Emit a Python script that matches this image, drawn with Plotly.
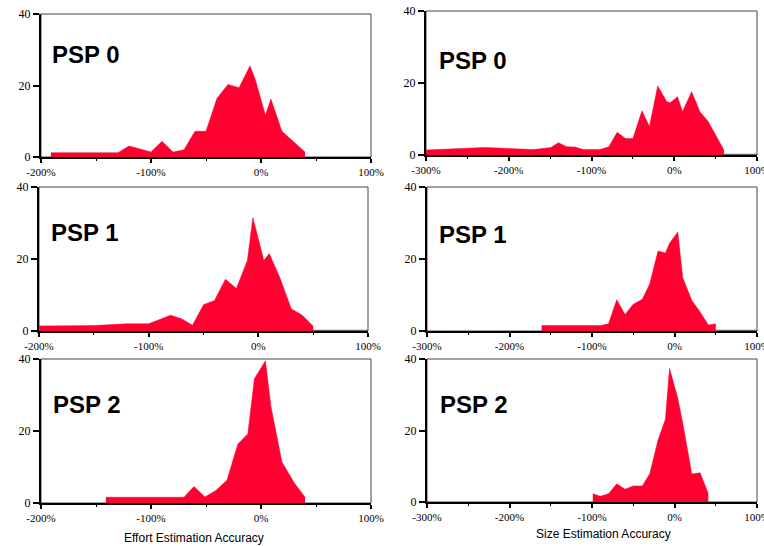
import plotly.graph_objects as go

W, H = 764, 546
RED = "#FF0030"

# ---------------- data ----------------
eff_psp0_x = [-191, -130, -120, -100, -90, -80, -70, -60, -50, -40, -30, -20, -10, -5, 4, 9, 19, 40]
eff_psp0_y = [1.2, 1.2, 3.1, 1.4, 4.4, 1.4, 2.0, 7.2, 7.2, 16.4, 20.3, 19.4, 25.5, 21.5, 11.7, 16.2, 7.2, 1.4]

eff_psp1_x = [-200, -150, -120, -100, -80, -70, -60, -50, -40, -30, -20, -10, -5, 5, 10, 20, 30, 40, 50]
eff_psp1_y = [1.4, 1.5, 2.0, 2.0, 4.4, 3.4, 1.6, 7.3, 8.5, 14.4, 11.8, 19.6, 31.5, 19.6, 21.5, 14.5, 6.2, 4.4, 1.3]
eff_psp1_tail_x = [50, 100]
eff_psp1_tail_y = [0.2, 0.2]

eff_psp2_x = [-141, -70, -61, -51, -41, -31, -21, -12, -6, 4, 9, 19, 30, 40]
eff_psp2_y = [1.6, 1.6, 4.6, 1.7, 3.5, 6.3, 16.4, 19.2, 34.5, 39.5, 26.9, 11.4, 5.7, 1.6]

size_psp0_x = [-300, -229, -170, -149, -140, -130, -120, -110, -90, -79, -69, -59, -50, -39, -30, -20, -9, -5, 4, 10, 21, 31, 41, 60]
size_psp0_y = [1.4, 2.1, 1.5, 2.1, 3.4, 2.3, 2.2, 1.5, 1.5, 2.3, 6.3, 4.6, 4.6, 12.3, 7.9, 19.2, 14.8, 14.5, 16.2, 12.0, 17.6, 12.0, 9.3, 1.4]
size_psp0_tail_x = [60, 100]
size_psp0_tail_y = [0.2, 0.2]

size_psp1_x = [-161, -90, -80, -70, -60, -50, -39, -30, -20, -11, -6, 4, 10, 21, 31, 41, 50]
size_psp1_y = [1.5, 1.5, 2.0, 8.7, 4.6, 7.4, 8.8, 13.1, 22.2, 21.7, 24.4, 27.5, 14.8, 8.5, 5.3, 1.7, 2.0]
size_psp1_tail_x = [50, 100]
size_psp1_tail_y = [0.2, 0.2]

size_psp2_x = [-99, -90, -80, -70, -60, -50, -39, -30, -20, -11, -6, 4, 10, 21, 31, 41]
size_psp2_y = [2.3, 1.6, 2.3, 5.1, 3.6, 4.5, 4.5, 7.9, 17.3, 23.2, 37.4, 29.0, 22.0, 7.8, 8.2, 2.3]

panel_labels = ["PSP 0", "PSP 1", "PSP 2", "PSP 0", "PSP 1", "PSP 2"]
effort_ticks = [-200, -100, 0, 100]
size_ticks = [-300, -200, -100, 0, 100]
y_ticks = [0, 20, 40]
effort_title = "Effort Estimation Accuracy"
size_title = "Size Estimation Accuracy"

# ---------------- layout geometry (pixels) ----------------
# (left, right, top, bottom)
boxes = [
    (41, 371, 14, 157),
    (39, 368, 187, 331),
    (41, 371, 359, 503),
    (426, 757, 11, 155),
    (427, 757, 187, 331),
    (427, 757, 359, 502),
]
label_pos = [(50, 55), (49, 232), (51, 404), (437, 60), (437, 234), (438, 404)]

series = [
    (eff_psp0_x, eff_psp0_y, None, None),
    (eff_psp1_x, eff_psp1_y, eff_psp1_tail_x, eff_psp1_tail_y),
    (eff_psp2_x, eff_psp2_y, None, None),
    (size_psp0_x, size_psp0_y, size_psp0_tail_x, size_psp0_tail_y),
    (size_psp1_x, size_psp1_y, size_psp1_tail_x, size_psp1_tail_y),
    (size_psp2_x, size_psp2_y, None, None),
]

fig = go.Figure()
layout = dict(
    width=W, height=H, margin=dict(l=0, r=0, t=0, b=0, autoexpand=False),
    paper_bgcolor="white", plot_bgcolor="white", showlegend=False,
    annotations=[], shapes=[],
)

SERIF = "Liberation Serif, Times New Roman, serif"
tickfont_x = dict(family=SERIF, size=11, color="black")
tickfont_y = dict(family=SERIF, size=12, color="black")

for i, ((l, r, t, b), (xs, ys, tx, ty)) in enumerate(zip(boxes, series)):
    n = "" if i == 0 else str(i + 1)
    xa, ya = "x" + n, "y" + n
    effort = i < 3
    rng = [-200, 100] if effort else [-300, 100]
    ticks = effort_ticks if effort else size_ticks
    fig.add_trace(go.Scatter(
        x=xs, y=ys, mode="lines", fill="tozeroy", fillcolor=RED,
        line=dict(width=0.5, color=RED), xaxis=xa, yaxis=ya, hoverinfo="skip"))
    if tx is not None:
        fig.add_trace(go.Scatter(
            x=tx, y=ty, mode="lines", line=dict(width=1, color="#555555"),
            xaxis=xa, yaxis=ya, hoverinfo="skip"))
    layout["xaxis" + n] = dict(
        domain=[l / W, r / W], range=rng, anchor=ya, automargin=False,
        showgrid=False, zeroline=False, showline=True, linewidth=2, linecolor="black",
        tickvals=ticks, ticktext=[f"{v}%" for v in ticks], ticks="outside",
        ticklen=4, tickwidth=1.5, tickcolor="black", tickfont=tickfont_x,
        ticklabeloverflow="allow",
        minor=dict(dtick=50, tick0=0, ticks="outside", ticklen=2, tickwidth=1, tickcolor="black", showgrid=False),
        fixedrange=True,
    )
    layout["yaxis" + n] = dict(
        domain=[1 - b / H, 1 - t / H], range=[0, 40], anchor=xa, automargin=False,
        showgrid=False, zeroline=False, showline=True, linewidth=2, linecolor="black",
        tickvals=y_ticks, ticks="outside", ticklen=6, tickwidth=2, tickcolor="black",
        tickfont=tickfont_y, fixedrange=True, ticklabeloverflow="allow",
    )
    layout["shapes"].append(dict(
        type="rect", xref=xa + " domain", yref=ya + " domain", x0=0, x1=1, y0=0, y1=1,
        line=dict(color="#444444", width=1), layer="below"))
    px, py = label_pos[i]
    layout["annotations"].append(dict(
        text="<b>%s</b>" % panel_labels[i], xref="paper", yref="paper",
        x=px / W, y=1 - py / H, xanchor="left", yanchor="middle", showarrow=False,
        font=dict(family="Liberation Sans, Arial, sans-serif", size=24, color="black")))

layout["annotations"].append(dict(
    text=effort_title, xref="paper", yref="paper", x=194 / W, y=1 - 538 / H,
    xanchor="center", yanchor="middle", showarrow=False,
    font=dict(family="Liberation Sans, Arial, sans-serif", size=12, color="black")))
layout["annotations"].append(dict(
    text=size_title, xref="paper", yref="paper", x=603 / W, y=1 - 534 / H,
    xanchor="center", yanchor="middle", showarrow=False,
    font=dict(family="Liberation Sans, Arial, sans-serif", size=12, color="black")))

fig.update_layout(**layout)
fig.write_html("out.html")
